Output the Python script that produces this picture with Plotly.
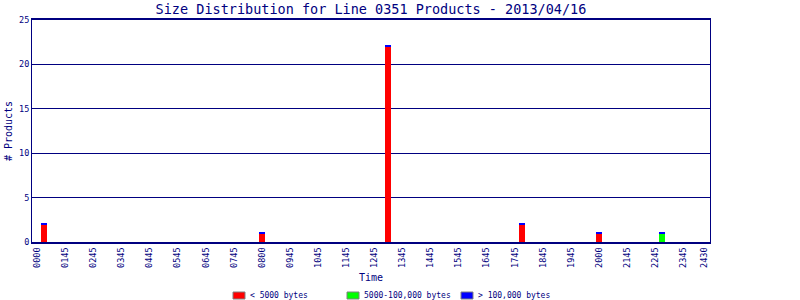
import plotly.graph_objects as go

# ---- data ----
bin_times = ["0015", "0800", "1230", "1715", "2000", "2215"]
small_vals = [2, 1, 22, 2, 1, 0]          # < 5000 bytes
medium_vals = [0, 0, 0, 0, 0, 1]          # 5000-100,000 bytes
large_vals = [0.1, 0.1, 0.1, 0.1, 0.1, 0.1]  # > 100,000 bytes (thin cap)
series_names = ["< 5000 bytes", "5000-100,000 bytes", "> 100,000 bytes"]
series_colors = ["#ff0000", "#00ff00", "#0000ff"]
tick_labels = ["0000", "0145", "0245", "0345", "0445", "0545", "0645", "0745",
               "0800", "0945", "1045", "1145", "1245", "1345", "1445", "1545",
               "1645", "1745", "1845", "1945", "2000", "2145", "2245", "2345", "2430"]
y_ticks = [0, 5, 10, 15, 20, 25]

def to_bin(t):
    return int(t[:2]) * 4 + int(t[2:]) // 15

xs = [to_bin(t) for t in bin_times]
tick_pos = [i * 4 for i in range(24)] + [95]

NAVY = "#000080"
FONT = "DejaVu Sans Mono"

fig = go.Figure()
for name, vals, col in zip(series_names, [small_vals, medium_vals, large_vals], series_colors):
    fig.add_bar(x=xs, y=vals, name=name, marker_color=col, width=0.85,
                marker_line_width=0, showlegend=False)

# manual legend (box + label), laid out in pixel terms on the paper
W, H = 800, 300
L, R, T, B = 32, 90, 20, 58
pw, ph = W - L - R, H - T - B
def px(x):
    return (x - L) / pw
def py(y):
    return (H - B - y) / ph

legend_x0 = [233, 347, 461]
for i, (name, col) in enumerate(zip(series_names, series_colors)):
    x0 = legend_x0[i]
    fig.add_shape(type="rect", xref="paper", yref="paper",
                  x0=px(x0), x1=px(x0 + 12), y0=py(299), y1=py(292),
                  fillcolor=col, line=dict(color="#808080", width=1))
    fig.add_annotation(text=name, xref="paper", yref="paper",
                       x=px(x0 + 15), y=py(295.5), xanchor="left", yanchor="middle",
                       showarrow=False, font=dict(family=FONT, size=8, color=NAVY))

fig.update_layout(
    width=W, height=H, barmode="stack",
    margin=dict(l=L, r=R, t=T, b=B, autoexpand=False),
    paper_bgcolor="white", plot_bgcolor="white",
    font=dict(family=FONT, color=NAVY, size=8),
    title=dict(text="Size Distribution for Line 0351 Products - 2013/04/16",
               x=0.5, xref="paper", y=1 - 9 / 300, yref="container",
               yanchor="middle", xanchor="center",
               font=dict(family=FONT, size=13.5, color=NAVY)),
    xaxis=dict(range=[-0.75, 95.8], tickmode="array", tickvals=tick_pos,
               ticktext=tick_labels, tickangle=-90, showgrid=False,
               showline=True, linecolor=NAVY, linewidth=2, mirror=True,
               ticks="", ticklen=0, zeroline=False, automargin=False,
               tickfont=dict(family=FONT, size=8.5, color=NAVY),
               title=dict(text="Time", standoff=7,
                          font=dict(family=FONT, size=10, color=NAVY))),
    yaxis=dict(range=[0, 25], tickmode="array", tickvals=y_ticks,
               showgrid=True, gridcolor=NAVY, gridwidth=1,
               showline=True, linecolor=NAVY, linewidth=1, mirror=True,
               zeroline=False, ticks="", automargin=False,
               tickfont=dict(family=FONT, size=8.5, color=NAVY),
               title=dict(text="# Products", standoff=4,
                          font=dict(family=FONT, size=10, color=NAVY))),
    bargap=0,
    showlegend=False,
)

fig.write_html("out.html")
